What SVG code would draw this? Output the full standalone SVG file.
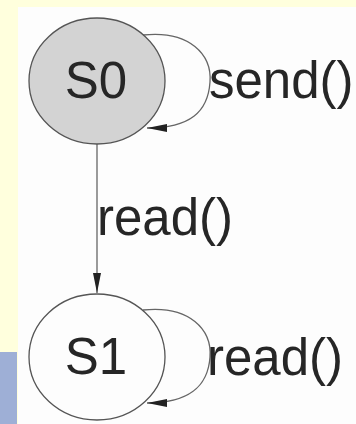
<svg xmlns="http://www.w3.org/2000/svg" width="356" height="424" viewBox="0 0 356 424">
<defs>
<style>
.st{stroke:#555;stroke-width:1.3}
.lbl{font-family:"Liberation Sans",Arial,sans-serif;font-size:51px;fill:#262626}
.edge{fill:none;stroke:#666;stroke-width:1.3}
</style>
<marker id="ah" viewBox="0 0 20 8" refX="20" refY="4" markerWidth="20" markerHeight="8" markerUnits="userSpaceOnUse" orient="auto">
<path d="M0,0 L20,4 L0,8 Z" fill="#222"/>
</marker>
</defs>
<rect x="0" y="0" width="356" height="424" fill="#FFFFDD"/>
<rect x="0" y="352" width="17" height="72" fill="#9EAFD6"/>
<rect x="18" y="7" width="338" height="417" fill="#FDFDFD"/>
<g id="connectors">
<path class="edge" d="M97,144 L97,293" marker-end="url(#ah)"/>
<path class="edge" d="M143,35 C190,30 212,55 210,82 C208,112 190,128 147,128" marker-end="url(#ah)"/>
<path class="edge" d="M143,310 C190,305 212,330 210,357 C208,386 190,403 147,403" marker-end="url(#ah)"/>
<text class="lbl" x="209" y="98">send()</text>
<text class="lbl" x="97" y="235">read()</text>
<text class="lbl" x="207" y="375">read()</text>
</g>
<g id="S0">
<ellipse class="st" cx="97" cy="81" rx="68" ry="63" fill="#D3D3D3"/>
<text class="lbl" x="96" y="98" text-anchor="middle">S0</text>
</g>
<g id="S1">
<ellipse class="st" cx="97" cy="357" rx="68" ry="63" fill="#FDFDFD"/>
<text class="lbl" x="96" y="374" text-anchor="middle">S1</text>
</g>
</svg>
